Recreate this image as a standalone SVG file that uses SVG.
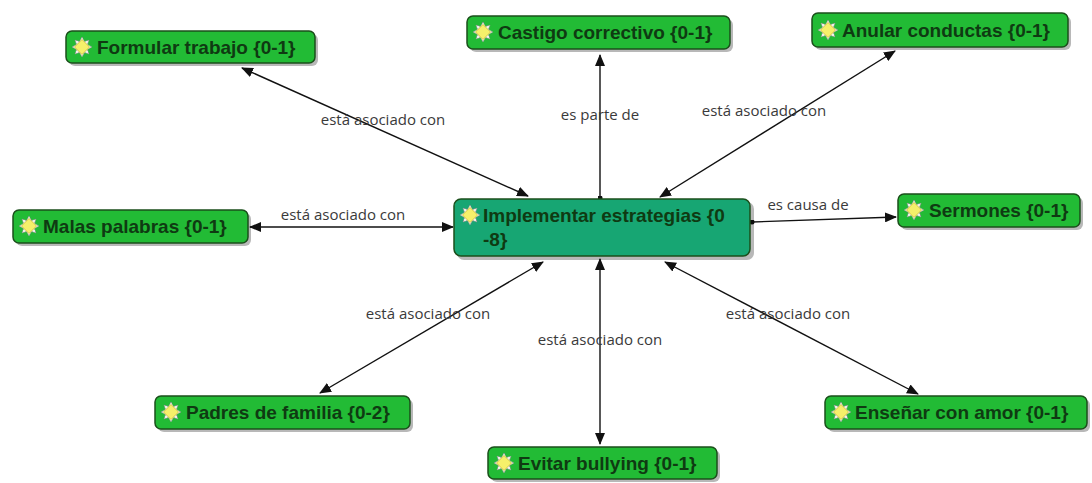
<svg xmlns="http://www.w3.org/2000/svg" xmlns:xlink="http://www.w3.org/1999/xlink" width="1092" height="483" viewBox="0 0 1092 483">
<style>
.box{fill:#22bb35;stroke:#1b4f1b;stroke-width:1.5}
.cbox{fill:#17a673;stroke:#1b4f1b;stroke-width:1.5}
.shadow{fill:#000;opacity:0.28}
.nt{font-family:"Liberation Sans",Arial,sans-serif;font-weight:bold;font-size:19px;fill:#0f3a12}
.lbl{font-family:"Open Sans","DejaVu Sans",sans-serif;font-size:15px;fill:#3a3a3a;text-anchor:middle}
.edge{stroke:#111;stroke-width:1.4;fill:none}
</style>
<defs>
<marker id="arr" viewBox="0 0 12 10" refX="11" refY="5" markerWidth="12" markerHeight="10" markerUnits="userSpaceOnUse" orient="auto-start-reverse">
<path d="M0,0 L12,5 L0,10 Z" fill="#111"/>
</marker>
<marker id="dot" viewBox="0 0 6 6" refX="3" refY="3" markerWidth="5" markerHeight="5" markerUnits="userSpaceOnUse">
<circle cx="3" cy="3" r="3" fill="#111"/>
</marker>
<g id="icon">
<path d="M0,-10 L2.5,-5.5 L7,-7 L5.5,-2.5 L10,0 L5.5,2.5 L7,7 L2.5,5.5 L0,10 L-2.5,5.5 L-7,7 L-5.5,2.5 L-10,0 L-5.5,-2.5 L-7,-7 L-2.5,-5.5 Z" fill="#f2f2ea" stroke="#8a8a8a" stroke-width="0.8" stroke-dasharray="1.5,1"/>
<path d="M0,-7.5 L7.5,0 L0,7.5 L-7.5,0 Z" fill="#f6f06a" stroke="#c9b820" stroke-width="0.7"/>
</g>
</defs>
<rect width="1092" height="483" fill="#ffffff"/>

<g id="connectors">
<line class="edge" x1="242" y1="68" x2="528" y2="196" marker-start="url(#arr)" marker-end="url(#arr)"/>
<line class="edge" x1="600" y1="198" x2="600" y2="55" marker-start="url(#dot)" marker-end="url(#arr)"/>
<line class="edge" x1="895" y1="51" x2="660" y2="197" marker-start="url(#arr)" marker-end="url(#arr)"/>
<line class="edge" x1="250" y1="227" x2="453" y2="227" marker-start="url(#arr)" marker-end="url(#arr)"/>
<line class="edge" x1="752" y1="222" x2="896" y2="217" marker-start="url(#dot)" marker-end="url(#arr)"/>
<line class="edge" x1="543" y1="262" x2="320" y2="393" marker-start="url(#arr)" marker-end="url(#arr)"/>
<line class="edge" x1="600" y1="259" x2="600" y2="444" marker-start="url(#arr)" marker-end="url(#arr)"/>
<line class="edge" x1="665" y1="262" x2="918" y2="394" marker-start="url(#arr)" marker-end="url(#arr)"/>
<text class="lbl" x="383" y="125">está asociado con</text>
<text class="lbl" x="600" y="120">es parte de</text>
<text class="lbl" x="764" y="116">está asociado con</text>
<text class="lbl" x="343" y="220">está asociado con</text>
<text class="lbl" x="808" y="210">es causa de</text>
<text class="lbl" x="428" y="319">está asociado con</text>
<text class="lbl" x="600" y="345">está asociado con</text>
<text class="lbl" x="788" y="319">está asociado con</text>
</g>

<g id="n-central">
<rect class="shadow" x="457" y="202" width="297" height="58" rx="7"/>
<rect class="cbox" x="454" y="199" width="296" height="57" rx="7"/>
<use xlink:href="#icon" x="470" y="215"/>
<text class="nt" x="483" y="222">Implementar estrategias {0</text>
<text class="nt" x="483" y="246">-8}</text>
</g>

<g id="n-formular">
<rect class="shadow" x="69" y="34" width="249" height="32" rx="6"/>
<rect class="box" x="66" y="31" width="249" height="32" rx="6"/>
<use xlink:href="#icon" x="82" y="47"/>
<text class="nt" x="97" y="54">Formular trabajo {0-1}</text>
</g>

<g id="n-castigo">
<rect class="shadow" x="470" y="19" width="263" height="33" rx="6"/>
<rect class="box" x="467" y="16" width="263" height="33" rx="6"/>
<use xlink:href="#icon" x="483" y="32"/>
<text class="nt" x="498" y="39">Castigo correctivo {0-1}</text>
</g>

<g id="n-anular">
<rect class="shadow" x="815" y="16" width="256" height="34" rx="6"/>
<rect class="box" x="812" y="13" width="256" height="34" rx="6"/>
<use xlink:href="#icon" x="828" y="30"/>
<text class="nt" x="842" y="37">Anular conductas {0-1}</text>
</g>

<g id="n-malas">
<rect class="shadow" x="16" y="213" width="235" height="33" rx="6"/>
<rect class="box" x="13" y="210" width="235" height="33" rx="6"/>
<use xlink:href="#icon" x="29" y="226"/>
<text class="nt" x="43" y="233">Malas palabras {0-1}</text>
</g>

<g id="n-sermones">
<rect class="shadow" x="901" y="197" width="182" height="33" rx="6"/>
<rect class="box" x="898" y="194" width="182" height="33" rx="6"/>
<use xlink:href="#icon" x="914" y="210"/>
<text class="nt" x="929" y="217">Sermones {0-1}</text>
</g>

<g id="n-padres">
<rect class="shadow" x="158" y="399" width="255" height="33" rx="6"/>
<rect class="box" x="155" y="396" width="255" height="33" rx="6"/>
<use xlink:href="#icon" x="171" y="412"/>
<text class="nt" x="186" y="419">Padres de familia {0-2}</text>
</g>

<g id="n-evitar">
<rect class="shadow" x="491" y="450" width="229" height="32" rx="6"/>
<rect class="box" x="488" y="447" width="229" height="32" rx="6"/>
<use xlink:href="#icon" x="504" y="463"/>
<text class="nt" x="518" y="470">Evitar bullying {0-1}</text>
</g>

<g id="n-ensenar">
<rect class="shadow" x="828" y="399" width="262" height="33" rx="6"/>
<rect class="box" x="825" y="396" width="262" height="33" rx="6"/>
<use xlink:href="#icon" x="841" y="412"/>
<text class="nt" x="855" y="419">Enseñar con amor {0-1}</text>
</g>
</svg>
